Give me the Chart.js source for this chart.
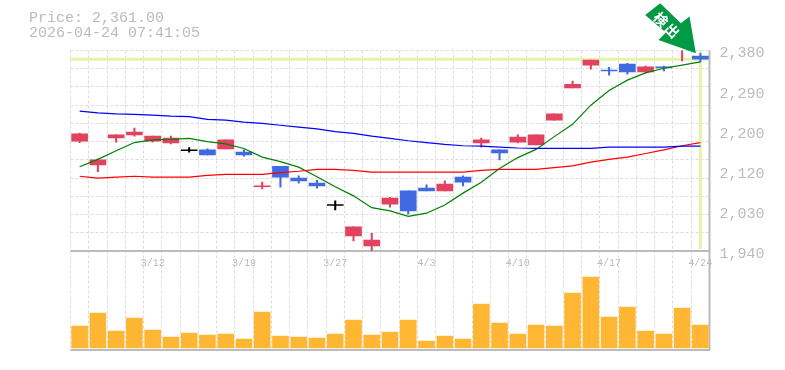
<!DOCTYPE html>
<html>
<head>
<meta charset="utf-8">
<title>Price chart</title>
<style>
  html, body { margin: 0; padding: 0; background: #fff; }
  #wrap { position: relative; width: 785px; height: 370px; overflow: hidden; }
  #head { position: absolute; left: 29px; top: 11px; font: 15px/15px "Liberation Mono", monospace; color: #bbb; white-space: pre; }
  canvas { display: block; }
</style>
<script src="https://cdn.jsdelivr.net/npm/chart.js@4"></script>
</head>
<body>
<div id="wrap">
  <canvas id="priceChart" width="785" height="370"></canvas>
  <div id="head"></div>
</div>
<script>
const priceText = 'Price: 2,361.00';
const timeText = '2026-04-24 07:41:05';
const lastPrice = 2361;
const arrowText = '検出';

const dates = ['3/6','3/9','3/10','3/11','3/12','3/13','3/16','3/17','3/18','3/19','3/23','3/24','3/25','3/26','3/27','3/30','3/31','4/1','4/2','4/3','4/6','4/7','4/8','4/9','4/10','4/13','4/14','4/15','4/16','4/17','4/20','4/21','4/22','4/23','4/24'];
const shownDates = ['3/12','3/19','3/27','4/3','4/10','4/17','4/24'];

const opens  = [2181,2129,2188,2195,2181,2177,2160,2162,2164,2157,2081,2126,2100,2089,2040,1973,1951,2043,2072,2078,2072,2102,2177,2162,2179,2173,2227,2298,2348,2337,2350,2333,2344,2384,2368];
const closes = [2197,2140,2195,2201,2192,2188,2162,2151,2184,2151,2083,2102,2094,2083,2042,1993,1964,2056,2028,2072,2087,2091,2184,2155,2190,2195,2241,2306,2359,2335,2333,2344,2342,2392,2361];
const highs  = [2199,2142,2195,2210,2192,2192,2167,2164,2184,2162,2091,2126,2105,2095,2050,1993,1979,2058,2072,2085,2094,2105,2188,2162,2195,2195,2241,2313,2359,2343,2352,2346,2346,2392,2374];
const lows   = [2178,2114,2179,2192,2179,2175,2157,2151,2164,2148,2076,2080,2089,2078,2030,1962,1940,2036,2021,2072,2072,2083,2168,2140,2177,2173,2227,2298,2339,2326,2328,2331,2335,2357,2355];
const dojiBlack = ['3/16','3/27'];

const blueLine  = [2247,2243,2241,2240,2238,2236,2235,2229,2227,2223,2220,2216,2212,2208,2202,2198,2192,2187,2182,2178,2174,2171,2170,2168,2166,2165,2165,2165,2165,2168,2168,2168,2168,2170,2170];
const redLine   = [2104,2100,2102,2104,2102,2102,2102,2106,2108,2108,2108,2112,2115,2119,2119,2117,2113,2113,2113,2113,2113,2113,2117,2119,2119,2119,2123,2127,2135,2141,2146,2154,2162,2171,2178];
const greenLine = [2125,2141,2160,2178,2184,2185,2187,2180,2175,2165,2146,2136,2124,2103,2081,2061,2035,2028,2016,2023,2041,2067,2091,2121,2145,2163,2191,2218,2260,2292,2315,2331,2341,2348,2355];

const volumes = [22,35,17,30,18,11,15,13,14,9,36,12,11,10,14,28,13,16,28,7,12,9,44,25,14,23,22,55,71,31,41,17,14,40,23];

const priceTicks = [2380,2292,2204,2116,2028,1940];
const priceTickLabels = ['2,380','2,290','2,200','2,120','2,030','1,940'];
const gridStep = 40;

const RED = 'rgb(226,65,95)';
const BLUE = 'rgb(65,105,225)';
const GREY = '#bbbbbb';
const GRID = '#dddddd';
const HILITE = '#e4f5ab';

function candleColor(i) {
  if (dojiBlack.includes(dates[i])) return '#000000';
  return closes[i] >= opens[i] ? RED : BLUE;
}
const candleColors = dates.map((d, i) => candleColor(i));

document.getElementById('head').textContent = priceText + '\n' + timeText;

// last price cross and the solid frame, drawn under the candles
const framePlugin = {
  id: 'frame',
  beforeDatasetsDraw(chart) {
    const { ctx, chartArea, scales } = chart;
    const yP = scales.yPrice;
    const py = yP.getPixelForValue(lastPrice);
    const px = scales.x.getPixelForValue(dates.length - 1);
    ctx.save();
    ctx.strokeStyle = HILITE;
    ctx.lineWidth = 3;
    ctx.beginPath();
    ctx.moveTo(chartArea.left, py);
    ctx.lineTo(chartArea.right - 1, py);
    ctx.moveTo(px, chartArea.top);
    ctx.lineTo(px, yP.bottom - 2);
    ctx.stroke();
    ctx.strokeStyle = GREY;
    ctx.lineWidth = 2;
    ctx.beginPath();
    ctx.moveTo(chartArea.left, yP.bottom);
    ctx.lineTo(chartArea.right, yP.bottom);
    ctx.moveTo(chartArea.left, chartArea.bottom);
    ctx.lineTo(chartArea.right + 1, chartArea.bottom);
    ctx.moveTo(chartArea.right, chartArea.top);
    ctx.lineTo(chartArea.right, chartArea.bottom);
    ctx.stroke();
    ctx.restore();
  }
};

// green signal arrow, hung off the last candle
const arrowPlugin = {
  id: 'arrow',
  afterDatasetsDraw(chart) {
    const { ctx, scales } = chart;
    const tx = scales.x.getPixelForValue(dates.length - 1) - 4.5;
    const ty = scales.yPrice.getPixelForValue(highs[highs.length - 1]);
    const shape = [[-35.7,-50],[-15,-30],[-6.4,-36.7],[0,0],[-37.4,-13.3],[-30,-20.7],[-50.7,-38.3]];
    ctx.save();
    ctx.translate(tx, ty);
    ctx.fillStyle = '#009944';
    ctx.beginPath();
    shape.forEach((p, i) => i ? ctx.lineTo(p[0], p[1]) : ctx.moveTo(p[0], p[1]));
    ctx.closePath();
    ctx.fill();
    ctx.translate(-28.5, -27.5);
    ctx.rotate(Math.PI / 4);
    ctx.fillStyle = '#ffffff';
    ctx.font = 'bold 14px "Noto Sans CJK JP"';
    ctx.textAlign = 'center';
    ctx.textBaseline = 'middle';
    ctx.letterSpacing = '2px';
    ctx.fillText(arrowText, 0, 0);
    ctx.restore();
  }
};

const ctx = document.getElementById('priceChart').getContext('2d');
new Chart(ctx, {
  data: {
    labels: dates,
    datasets: [
      { type: 'line', data: blueLine, yAxisID: 'yPrice', borderColor: '#0000ff', borderWidth: 1.2, pointRadius: 0, tension: 0, order: 0 },
      { type: 'line', data: redLine, yAxisID: 'yPrice', borderColor: '#ff0000', borderWidth: 1.2, pointRadius: 0, tension: 0, order: 0 },
      { type: 'line', data: greenLine, yAxisID: 'yPrice', borderColor: '#008000', borderWidth: 1.2, pointRadius: 0, tension: 0, order: 0 },
      { type: 'bar', data: dates.map((d, i) => [opens[i], closes[i]]), yAxisID: 'yPrice', backgroundColor: candleColors, barThickness: 16, grouped: false, order: 1 },
      { type: 'bar', data: dates.map((d, i) => [lows[i], highs[i]]), yAxisID: 'yPrice', backgroundColor: candleColors, barThickness: 1.4, grouped: false, order: 2 },
      { type: 'bar', data: volumes, yAxisID: 'yVol', backgroundColor: '#ffb733', barThickness: 16, grouped: false, order: 3 }
    ]
  },
  options: {
    responsive: false,
    animation: false,
    events: [],
    layout: { padding: { left: 70.5, top: 50.5, bottom: 20, right: 0 } },
    plugins: { legend: { display: false }, tooltip: { enabled: false } },
    scales: {
      x: {
        type: 'category',
        position: { yVol: 97 },
        grid: { color: GRID, drawTicks: false },
        border: { display: false, dash: [3, 2] },
        ticks: {
          autoSkip: false,
          maxRotation: 0,
          padding: 6,
          color: GREY,
          font: { family: '"Liberation Mono", monospace', size: 10 },
          callback(value) {
            const d = this.getLabelForValue(value);
            return shownDates.includes(d) ? d : '';
          }
        }
      },
      yPrice: {
        position: 'right',
        stack: 'panels',
        stackWeight: 200.5,
        weight: 1,
        min: 1940,
        max: 2380,
        afterBuildTicks(scale) {
          const vals = [...priceTicks];
          for (let v = scale.min; v <= scale.max; v += gridStep) {
            if (!vals.includes(v)) vals.push(v);
          }
          scale.ticks = vals.sort((a, b) => a - b).map(v => ({ value: v }));
        },
        afterFit(scale) { scale.width = 75.5; },
        grid: {
          color: c => (c.tick && (c.tick.value - 1940) % gridStep === 0) ? GRID : 'transparent',
          drawTicks: false
        },
        border: { display: false, dash: [3, 2] },
        ticks: {
          autoSkip: false,
          padding: 10,
          labelOffset: 3,
          color: GREY,
          font: { family: '"Liberation Mono", monospace', size: 15 },
          callback(value) {
            const i = priceTicks.indexOf(value);
            return i >= 0 ? priceTickLabels[i] : '';
          }
        }
      },
      yVol: {
        position: 'right',
        stack: 'panels',
        stackWeight: 99,
        weight: 2,
        min: -2,
        max: 97,
        afterFit(scale) { scale.width = 75.5; },
        grid: { display: false },
        border: { display: false },
        ticks: { display: false }
      }
    }
  },
  plugins: [framePlugin, arrowPlugin]
});
</script>
</body>
</html>
